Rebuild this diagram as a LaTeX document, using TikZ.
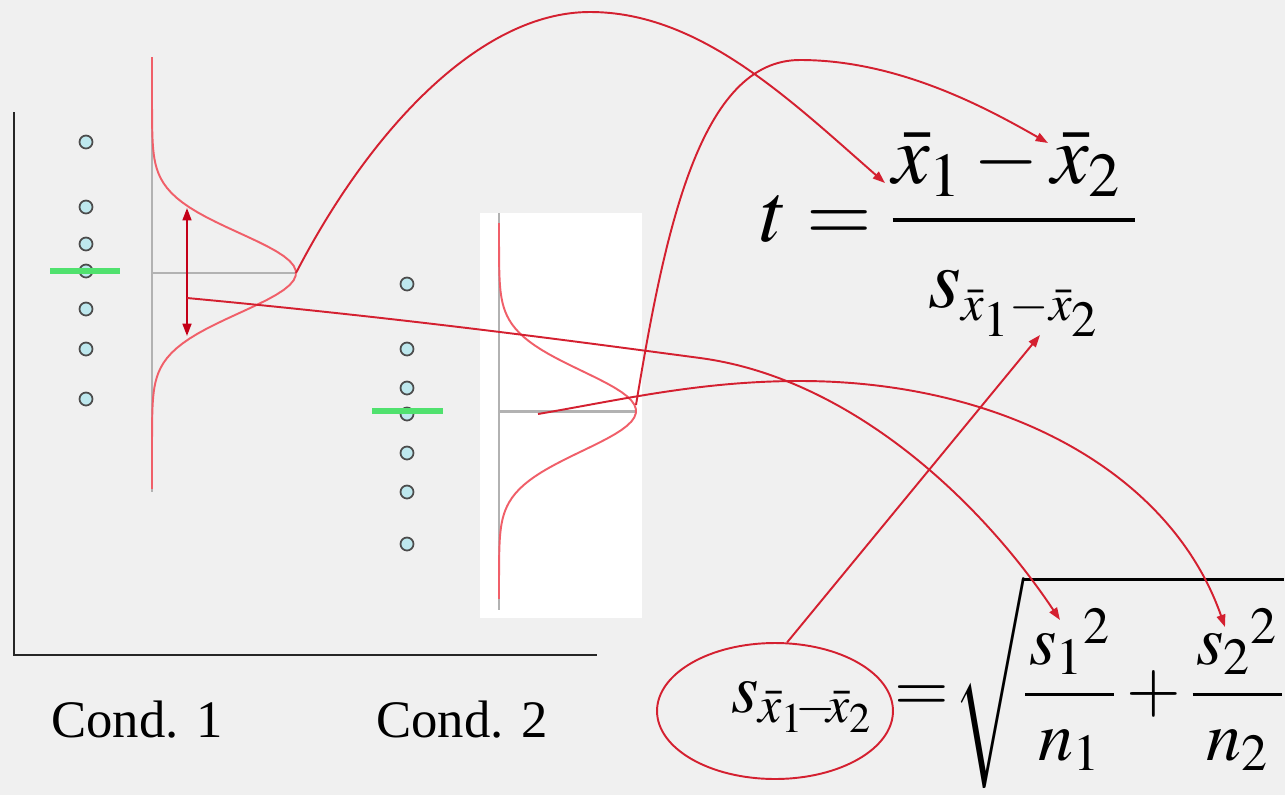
\documentclass[tikz,border=0pt]{standalone}
\usepackage{mathptmx}
\usepackage[no-math]{fontspec}
\setmainfont{Liberation Serif}
\usetikzlibrary{arrows.meta,shapes.geometric}

\definecolor{bgray}{RGB}{240,240,240}
\definecolor{pdfred}{RGB}{240,95,105}
\definecolor{linkred}{RGB}{212,32,48}
\definecolor{sdred}{RGB}{196,0,24}
\definecolor{dotfill}{RGB}{190,232,238}
\definecolor{meangreen}{RGB}{80,225,110}

\begin{document}
\begin{tikzpicture}[
    x=0.02cm, y=-0.02cm,
    every node/.style={font=\fontsize{30}{36}\selectfont},
    axisline/.style={black!85, line width=1.1pt},
    guide/.style={black!30, line width=1.7pt},
    density/.style={pdfred, line width=1.1pt},
    link/.style={linkred, line width=1.1pt, -{Triangle[length=7pt,width=5pt]}},
    sdarrow/.style={sdred, line width=1.2pt, {Triangle[length=7pt,width=5pt]}-{Triangle[length=7pt,width=5pt]}},
    dot/.style={circle, draw=black!70, fill=dotfill, line width=1pt,
      minimum size=0.26cm, inner sep=0pt},
    meanbar/.style={meangreen, line width=3.4pt},
    ring/.style={draw=linkred, ellipse, line width=1.1pt, inner sep=0pt,
      minimum width=4.72cm, minimum height=2.72cm},
    formula/.style={inner sep=0pt, font=\fontsize{48}{58}\selectfont},
    smallformula/.style={formula, font=\fontsize{40}{48}\selectfont}
]
\fill[bgray] (0,0) rectangle (1285,795);
\useasboundingbox (0,0) rectangle (1285,795);

% axes
\draw[axisline] (14,112) -- (14,655) -- (597,655);
\node (cond1) at (137,720) {Cond. 1};
\node (cond2) at (462,720) {Cond. 2};

% condition 1
\foreach \y [count=\i] in {142,207,244,271,309,349,399}
  \node (pa\i) [dot] at (86,\y) {};
\draw[meanbar] (50,271) -- (120,271);
\draw[guide, line width=1pt] (152,58) -- (152,492);
\draw[guide] (152,273) -- (296,273);
\draw[density] plot[domain=-5.4:5.4, samples=90, variable=\t]
  ({152+144*exp(-\t*\t/2)}, {273+40*\t});
\coordinate (peak1) at (296,273);
\coordinate (sdtop) at (187,208);
\coordinate (sdbot) at (187,336);
\coordinate (sdmid) at (187,298);
\draw[sdarrow] (sdtop) -- (sdbot);

% condition 2
\fill[white] (480,213) rectangle (642,618);
\foreach \y [count=\i] in {284,349,388,414,453,492,544}
  \node (pb\i) [dot] at (407,\y) {};
\draw[meanbar] (372,411) -- (443,411);
\draw[guide, line width=1pt] (499,213) -- (499,610);
\draw[guide] (499,411) -- (636,411);
\draw[density] plot[domain=-4.7:4.7, samples=90, variable=\t]
  ({499+137*exp(-\t*\t/2)}, {411+40*\t});
\coordinate (peak2) at (636,405);
\coordinate (mean2) at (538,414);

% formulas
\node (tstat) [formula, anchor=base west] at (760,241)
  {$\displaystyle t=\frac{\bar{x}_1-\bar{x}_2\mkern3mu}
   {\rule{0pt}{0.9em}s_{\scriptscriptstyle\bar{x}_1-\bar{x}_2}}$};
\node (sehat) [smallformula, anchor=base west] at (731,712)
  {$s_{\bar{x}_1\mkern-3mu-\mkern-3mu\bar{x}_2}$};
\node (sqrtpart) [smallformula, anchor=east] at (1284,682)
  {$\displaystyle {}=\mkern-3mu\sqrt{\frac{\mkern1mu{s_1}^{2}\mkern1mu}{n_1}
   +\frac{\mkern1mu{s_2}^{2}\mkern1mu}{n_2}}$};
\node (ring) [ring] at (775,711) {};
\coordinate (xbar1) at (885,183);
\coordinate (xbar2) at (1048,143);
\coordinate (sub) at (1040,335);
\coordinate (var1) at (1060,620);
\coordinate (var2) at (1225,627);

% links
\draw[link] (peak1) .. controls (370,130) and (480,12) .. (590,12)
  .. controls (700,12) and (790,100) .. (xbar1);
\draw[link] (peak2) .. controls (665,230) and (700,60) .. (800,60)
  .. controls (900,60) and (990,110) .. (xbar2);
\draw[link] (sdmid) .. controls (400,318) and (550,338) .. (700,358)
  .. controls (850,378) and (980,500) .. (var1);
\draw[link] (mean2) .. controls (620,400) and (700,381) .. (800,381)
  .. controls (1000,381) and (1170,470) .. (var2);
\draw[link] (ring.80) -- (sub);
\end{tikzpicture}
\end{document}
